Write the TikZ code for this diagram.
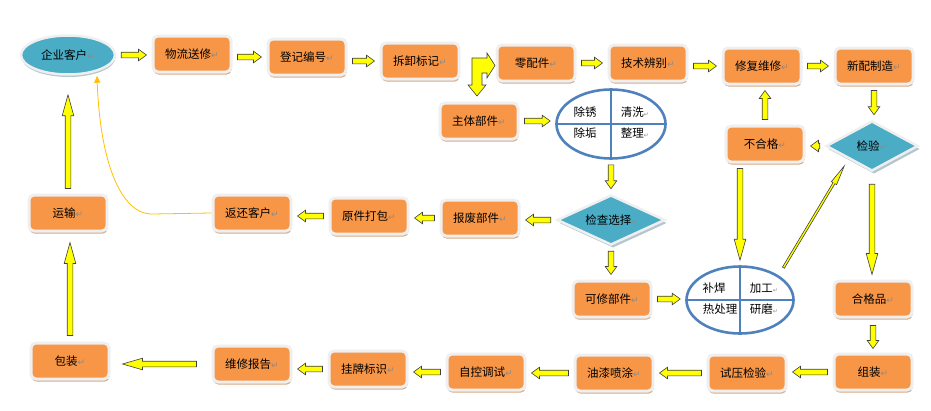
\documentclass[tikz,border=0pt]{standalone}
\usepackage{fontspec}
\setmainfont{Noto Sans CJK SC}
\newfontfamily\djv{DejaVu Sans}
\usetikzlibrary{calc,shapes.geometric,shadows,arrows.meta}
\definecolor{boxor}{HTML}{F79646}
\definecolor{rim}{HTML}{EFEFEF}
\definecolor{tanshd}{HTML}{D6AA86}
\definecolor{tealf}{HTML}{4BACC6}
\definecolor{tealshd}{HTML}{B4C6CE}
\definecolor{blueln}{HTML}{4F81BD}
\definecolor{curvec}{HTML}{FFC000}
\definecolor{arrowy}{HTML}{FFFF00}
\definecolor{pmgray}{HTML}{8A8A8A}
\newcommand{\pmk}{{\djv\color{pmgray}\fontsize{9}{9}\selectfont ↵}}
\newcommand{\pmks}{{\djv\color{pmgray}\fontsize{6}{6}\selectfont ↵}}
\tikzset{
  bw/.store in=\baw, bhw/.store in=\bahw, bhl/.store in=\bahl,
  bgs/.store in=\bags, bge/.store in=\bage,
  bw=2.8pt, bhw=5.8pt, bhl=8pt, bgs=5pt, bge=5pt,
  blk/.style={draw=black!75, fill=arrowy, line width=0.6pt, line join=miter,
    to path={
      ($(\tikztostart)!\bags!(\tikztotarget)$) coordinate (bas)
      ($(\tikztotarget)!\bage!(\tikztostart)$) coordinate (bat)
      ($(bat)!\bahl!(bas)$) coordinate (bab)
      ($(bas)!\baw!90:(bat)$) -- ($(bab)!\baw!-90:(bas)$) -- ($(bab)!\bahw!-90:(bas)$)
      -- (bat) -- ($(bab)!\bahw!90:(bas)$) -- ($(bab)!\baw!90:(bas)$)
      -- ($(bas)!\baw!-90:(bat)$) -- cycle}},
  blong/.style={blk, bhl=21pt},
  box/.style={rectangle, rounded corners=5pt, fill=boxor, draw=rim, line width=3pt,
    minimum width=78pt, minimum height=36pt, inner sep=0pt,
    drop shadow={shadow xshift=0.6pt, shadow yshift=-2.6pt, fill=tanshd, opacity=1}},
  oval/.style={ellipse, fill=tealf, draw=rim, line width=2.5pt,
    minimum width=94pt, minimum height=39pt, inner sep=0pt,
    drop shadow={shadow xshift=0.5pt, shadow yshift=-2.5pt, fill=tealshd, opacity=1}},
  dia/.style={diamond, fill=tealf, draw=rim, line width=2.5pt, aspect=2, inner sep=0pt,
    drop shadow={shadow xshift=2pt, shadow yshift=-3pt, fill=tealshd, opacity=1}},
  cross/.style={ellipse, draw=blueln, line width=2.6pt, inner sep=0pt},
  crossln/.style={draw=blueln, line width=2.6pt},
  qtxt/.style={inner sep=0pt},
  curve/.style={draw=curvec, line width=0.8pt, -{Triangle[length=7pt,width=6pt]}}
}
\begin{document}
\begin{tikzpicture}[x=1pt,y=-1pt,font=\fontsize{11.5}{13}\selectfont]
\useasboundingbox (0,0) rectangle (931,410);
% top row
\node[oval] (qy) at (68,55) {企业客户\pmk};
\node[box] (wl) at (192,54) {物流送修\pmk};
\node[box] (dj) at (307,57) {登记编号\pmk};
\node[box] (cx) at (420,61) {拆卸标记\pmk};
\node[box] (lp) at (536,63) {零配件\pmk};
\node[box] (js) at (648,63) {技术辨别\pmk};
\node[box] (xf) at (762,66) {修复维修\pmk};
\node[box] (xp) at (874,66) {新配制造\pmk};
% second band
\node[box] (zt) at (479,121) {主体部件\pmk};
\node[cross, minimum width=109pt, minimum height=69pt] (e1) at (611,124) {};
\draw[crossln] (e1.north) -- (e1.south);
\draw[crossln] (e1.west) -- (e1.east);
\node[qtxt] (t1) at (585,112) {除锈};
\node[qtxt] (t2) at (635,112) {清洗\pmks};
\node[qtxt] (t3) at (585,133) {除垢};
\node[qtxt] (t4) at (635,133) {整理\pmks};
\node[box] (bh) at (765,144) {不合格\pmk};
\node[dia, minimum width=92pt, minimum height=50pt] (jy) at (872,146) {检验\pmk};
% middle row
\node[box] (ys) at (68,213) {运输\pmk};
\node[box] (fh) at (252,213) {返还客户\pmk};
\node[box] (yb) at (369,216) {原件打包\pmk};
\node[box] (bf) at (480,218) {报废部件\pmk};
\node[dia, minimum width=108pt, minimum height=50pt] (jc) at (611,220) {检查选择\pmks};
% repair row
\node[box] (kx) at (612,299) {可修部件\pmk};
\node[cross, minimum width=107pt, minimum height=67pt] (e2) at (740,300) {};
\draw[crossln] (e2.north) -- (e2.south);
\draw[crossln] (e2.west) -- (e2.east);
\node[qtxt] (t5) at (714,288) {补焊};
\node[qtxt] (t6) at (764,288) {加工\pmks};
\node[qtxt] (t7) at (720,309) {热处理};
\node[qtxt] (t8) at (764,309) {研磨\pmks};
\node[box] (hg) at (873,299) {合格品\pmk};
% bottom row
\node[box] (bz) at (70,361) {包装\pmk};
\node[box] (wb) at (252,364) {维修报告\pmk};
\node[box] (gp) at (368,369) {挂牌标识\pmk};
\node[box] (zk) at (486,372) {自控调试\pmk};
\node[box] (yq) at (614,373) {油漆喷涂\pmk};
\node[box] (sy) at (747,373) {试压检验\pmk};
\node[box] (zz) at (873,372) {组装\pmk};
% arrows top row
\draw[blk] (qy.east) to (qy.east -| wl.west);
\draw[blk] (dj.west -| wl.east) to (dj.west);
\draw[blk] (cx.west -| dj.east) to (cx.west);
\draw[blk] (472,58) -- (487,58) -- (487,53) -- (495,65.5) -- (487,78) -- (487,73)
  -- (482,73) -- (482,85) -- (486,85) -- (477,96) -- (468,85) -- (472,85) -- cycle;
\draw[blk] (lp.east) to (lp.east -| js.west);
\draw[blk] (xf.west -| js.east) to (xf.west);
\draw[blk] (xf.east) to (xf.east -| xp.west);
\draw[blk] (xp.south) to (xp.south |- jy.north);
\draw[blk] (jy.west) to (jy.west -| bh.east);
\draw[blk] (bh.north) to (bh.north |- xf.south);
\draw[blk] (zt.east) to (zt.east -| e1.west);
\draw[blk] (e1.south) to (e1.south |- jc.north);
% middle
\draw[blong] (bh.south -| e2.north) to (e2.north);
\draw[blk, bw=1.1pt, bhw=3pt, bhl=20pt, bgs=9pt, bge=8pt] (e2.north east) to (jy.south west);
\draw[blong, bgs=12pt] (jy.south) to (jy.south |- hg.north);
\draw[blk] (jc.west) to (jc.west -| bf.east);
\draw[blk] (bf.west) to (bf.west -| yb.east);
\draw[blk] (yb.west) to (yb.west -| fh.east);
\draw[blk] (jc.south) to (jc.south |- kx.north);
\draw[blk] (kx.east) to (kx.east -| e2.west);
\draw[curve] (fh.west) -- (152,214) .. controls (120,214) and (100,160) .. (qy.south -| 97,0);
% bottom
\draw[blk, bgs=7pt, bge=4pt] (hg.south) to (hg.south |- zz.north);
\draw[blk] (zz.west) to (zz.west -| sy.east);
\draw[blk] (sy.west) to (sy.west -| yq.east);
\draw[blk] (yq.west) to (yq.west -| zk.east);
\draw[blk] (zk.west) to (zk.west -| gp.east);
\draw[blk] (gp.west) to (gp.west -| wb.east);
\draw[blong, bhl=20pt, bgs=15pt, bge=12pt] (wb.west) to (wb.west -| bz.east);
\draw[blong, bgs=6pt, bge=10pt] (bz.north) to (bz.north |- ys.south);
\draw[blong, bgs=5pt, bge=19pt] (ys.north) to (ys.north |- qy.south);
\end{tikzpicture}
\end{document}
